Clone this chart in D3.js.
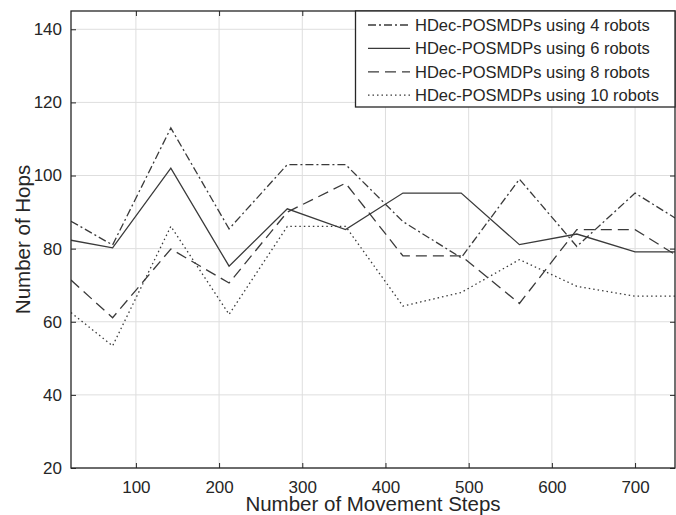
<!DOCTYPE html>
<html>
<head>
<meta charset="utf-8">
<script src="https://cdn.jsdelivr.net/npm/d3@7"></script>
<style>
  body { margin: 0; background: #fff; }
  text { font-family: "Liberation Sans", Arial, sans-serif; fill: #262626; }
</style>
</head>
<body>
<svg id="chart" width="676" height="515"></svg>
<script>
const steps = [22, 72, 142, 212, 282, 352, 421, 491, 561, 630, 700, 748];
const robots4 = [87.5, 81, 113, 85.4, 103, 103, 87.4, 77.5, 99, 80.6, 95.2, 88.4];
const robots6 = [82.3, 80.2, 102, 75.2, 90.9, 85.2, 95.2, 95.2, 81.1, 84, 79.1, 79.1];
const robots8 = [71.4, 61.1, 79.9, 70.6, 90, 97.9, 78, 78, 65, 85.2, 85.2, 78.4];
const robots10 = [62.5, 53.4, 86.1, 62, 86.1, 86.1, 64.3, 68, 77, 69.7, 67, 67];
const seriesNames = [
  "HDec-POSMDPs using 4 robots",
  "HDec-POSMDPs using 6 robots",
  "HDec-POSMDPs using 8 robots",
  "HDec-POSMDPs using 10 robots"
];
const xTicks = [100, 200, 300, 400, 500, 600, 700];
const yTicks = [20, 40, 60, 80, 100, 120, 140];

const allSeries = [robots4, robots6, robots8, robots10];
const dashes = ["8,3,2,3", null, "11,6", "1.5,3"];

const svg = d3.select("#chart");
const pLeft = 71, pRight = 675, pTop = 11, pBottom = 468;

const x = d3.scaleLinear().domain([22, 748]).range([pLeft, pRight]);
const y = d3.scaleLinear().domain([20, 145]).range([pBottom, pTop]);

// grid
const grid = svg.append("g");
grid.selectAll(".gx").data(xTicks).enter().append("line")
  .attr("x1", d => x(d)).attr("x2", d => x(d))
  .attr("y1", pTop).attr("y2", pBottom)
  .attr("stroke", "#dedede").attr("stroke-width", 1);
grid.selectAll(".gy").data(yTicks).enter().append("line")
  .attr("x1", pLeft).attr("x2", pRight)
  .attr("y1", d => y(d)).attr("y2", d => y(d))
  .attr("stroke", "#dedede").attr("stroke-width", 1);

// lines
const line = d3.line().x((d, i) => x(steps[i])).y(d => y(d));
svg.append("clipPath").attr("id", "clip").append("rect")
  .attr("x", pLeft).attr("y", pTop).attr("width", pRight - pLeft).attr("height", pBottom - pTop);

svg.append("g").attr("clip-path", "url(#clip)")
  .selectAll("path").data(allSeries).enter().append("path")
  .attr("d", d => line(d))
  .attr("fill", "none")
  .attr("stroke", "#3a3a3a")
  .attr("stroke-width", 1.3)
  .attr("stroke-dasharray", (d, i) => dashes[i]);

// axes
const xAxis = svg.append("g").attr("transform", `translate(0,${pBottom})`)
  .call(d3.axisBottom(x).tickValues(xTicks).tickSizeInner(-5).tickSizeOuter(0).tickPadding(10));
const xTop = svg.append("g").attr("transform", `translate(0,${pTop})`)
  .call(d3.axisTop(x).tickValues(xTicks).tickSizeInner(-5).tickSizeOuter(0).tickFormat(""));
const yAxis = svg.append("g").attr("transform", `translate(${pLeft},0)`)
  .call(d3.axisLeft(y).tickValues(yTicks).tickSizeInner(-5).tickSizeOuter(0).tickPadding(9));
const yRight = svg.append("g").attr("transform", `translate(${pRight},0)`)
  .call(d3.axisRight(y).tickValues(yTicks).tickSizeInner(-5).tickSizeOuter(0).tickFormat(""));

[xAxis, xTop, yAxis, yRight].forEach(a => {
  a.select(".domain").remove();
  a.selectAll(".tick line").attr("stroke", "#262626");
  a.selectAll(".tick text").attr("font-size", 17).attr("fill", "#262626");
});
xAxis.selectAll(".tick text").attr("dy", "0.9em");

svg.append("rect")
  .attr("x", pLeft).attr("y", pTop).attr("width", pRight - pLeft).attr("height", pBottom - pTop)
  .attr("fill", "none").attr("stroke", "#262626").attr("stroke-width", 1.3);

// axis titles
svg.append("text")
  .attr("x", (pLeft + pRight) / 2).attr("y", 511)
  .attr("text-anchor", "middle").attr("font-size", 20.5)
  .text("Number of Movement Steps");
svg.append("text")
  .attr("transform", `translate(30,${(pTop + pBottom) / 2}) rotate(-90)`)
  .attr("text-anchor", "middle").attr("font-size", 20.5)
  .text("Number of Hops");

// legend
const legend = svg.append("g");
legend.append("rect")
  .attr("x", 355.5).attr("y", pTop).attr("width", pRight - 355.5).attr("height", 96)
  .attr("fill", "#fff").attr("stroke", "#262626").attr("stroke-width", 1.3);
const rows = legend.selectAll(".row").data(seriesNames).enter().append("g")
  .attr("transform", (d, i) => `translate(0,${25 + i * 23.4})`);
rows.append("line")
  .attr("x1", 368).attr("x2", 410).attr("y1", 0).attr("y2", 0)
  .attr("stroke", "#3a3a3a").attr("stroke-width", 1.3)
  .attr("stroke-dasharray", (d, i) => dashes[i]);
rows.append("text")
  .attr("x", 415).attr("y", 0).attr("dy", "0.35em")
  .attr("font-size", 16.5)
  .text(d => d);
</script>
</body>
</html>
